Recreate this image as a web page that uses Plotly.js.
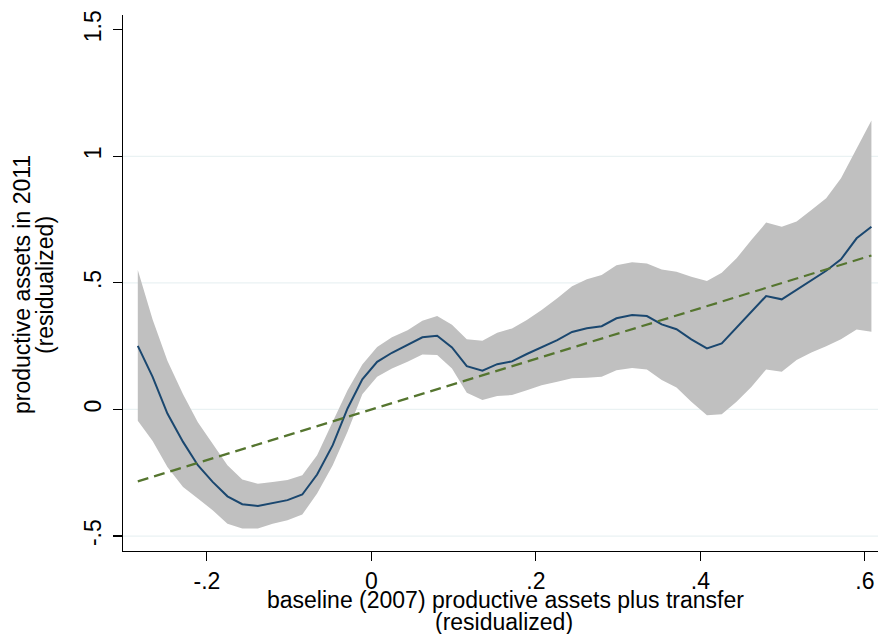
<!DOCTYPE html>
<html>
<head>
<meta charset="utf-8">
<script src="https://cdn.plot.ly/plotly-3.0.1.min.js"></script>
<style>html,body{margin:0;padding:0;background:#fff;}#chart{width:879px;height:634px;}</style>
</head>
<body>
<div id="chart"></div>
<script>
// Evaluation grid (baseline productive assets plus transfer, residualized)
const xGrid = [-0.284,-0.266,-0.248,-0.229,-0.211,-0.193,-0.175,-0.157,-0.138,-0.120,
  -0.102,-0.084,-0.066,-0.047,-0.029,-0.011,0.007,0.025,0.044,0.062,
  0.080,0.098,0.116,0.135,0.153,0.171,0.189,0.207,0.226,0.244,
  0.262,0.280,0.298,0.317,0.335,0.353,0.371,0.389,0.408,0.426,
  0.444,0.462,0.480,0.499,0.517,0.535,0.553,0.571,0.590,0.608];
// Local polynomial fit
const fitY = [0.251,0.129,-0.016,-0.128,-0.220,-0.286,-0.343,-0.374,-0.381,-0.369,
  -0.358,-0.336,-0.257,-0.141,0.004,0.119,0.188,0.224,0.254,0.285,
  0.291,0.245,0.171,0.153,0.179,0.190,0.219,0.247,0.274,0.306,
  0.321,0.329,0.360,0.373,0.369,0.336,0.317,0.277,0.241,0.261,
  0.323,0.389,0.448,0.435,0.472,0.511,0.548,0.593,0.676,0.722];
// 95% CI upper bound
const ciUpper = [0.551,0.355,0.192,0.060,-0.050,-0.134,-0.220,-0.277,-0.293,-0.286,
  -0.279,-0.260,-0.181,-0.049,0.076,0.178,0.247,0.285,0.313,0.350,
  0.369,0.335,0.277,0.271,0.303,0.320,0.353,0.393,0.439,0.487,
  0.514,0.531,0.570,0.581,0.577,0.553,0.544,0.524,0.507,0.540,
  0.597,0.669,0.738,0.722,0.742,0.788,0.834,0.913,1.028,1.141];
// 95% CI lower bound
const ciLower = [-0.045,-0.125,-0.227,-0.306,-0.352,-0.398,-0.451,-0.470,-0.470,-0.451,
  -0.438,-0.415,-0.332,-0.220,-0.088,0.060,0.129,0.162,0.188,0.217,
  0.215,0.162,0.066,0.037,0.053,0.057,0.076,0.096,0.109,0.123,
  0.125,0.129,0.155,0.164,0.158,0.116,0.087,0.030,-0.023,-0.019,
  0.030,0.089,0.158,0.149,0.195,0.225,0.250,0.277,0.316,0.307];
// 45-degree reference line end points
const refX = [-0.284, 0.608];
const refY = [-0.284, 0.608];
// Axis ticks
const xTickVals = [-0.2, 0, 0.2, 0.4, 0.6];
const xTickText = ['-.2', '0', '.2', '.4', '.6'];
const yTickVals = [-0.5, 0, 0.5, 1, 1.5];
const yTickText = ['-.5', '0', '.5', '1', '1.5'];
const yGridVals = [-0.5, 0, 0.5, 1];
// Axis titles (two lines each)
const xTitleLines = ['baseline (2007) productive assets plus transfer', '(residualized)'];
const yTitleLines = ['productive assets in 2011', '(residualized)'];

const FONT = 'Liberation Sans, Arial, sans-serif';
const TSIZE = 23;

const traces = [
  {x: xGrid, y: ciLower, type: 'scatter', mode: 'lines', line: {width: 0, color: '#c0c0c0'}, hoverinfo: 'skip', showlegend: false},
  {x: xGrid, y: ciUpper, type: 'scatter', mode: 'lines', fill: 'tonexty', fillcolor: '#c0c0c0', line: {width: 0, color: '#c0c0c0'}, hoverinfo: 'skip', showlegend: false},
  {x: xGrid, y: fitY, type: 'scatter', mode: 'lines', line: {color: '#1a476f', width: 2}, showlegend: false},
  {x: refX, y: refY, type: 'scatter', mode: 'lines', line: {color: '#55752f', width: 2.2, dash: '11px,6px'}, showlegend: false}
];

const shapes = yGridVals.map(v => ({
  type: 'line', xref: 'paper', x0: 0, x1: 1, yref: 'y', y0: v, y1: v,
  line: {color: '#eaf2f3', width: 1.2}, layer: 'below'
}));

const annotations = [
  {text: xTitleLines[0], xref: 'paper', yref: 'paper', x: 0.5, y: 0, xanchor: 'center', yanchor: 'middle', xshift: 5, yshift: -49, showarrow: false, font: {family: FONT, size: TSIZE, color: '#000'}},
  {text: xTitleLines[1], xref: 'paper', yref: 'paper', x: 0.5, y: 0, xanchor: 'center', yanchor: 'middle', xshift: 3, yshift: -71, showarrow: false, font: {family: FONT, size: TSIZE, color: '#000'}},
  {text: yTitleLines[0], xref: 'paper', yref: 'paper', x: 0, y: 0.5, xanchor: 'center', yanchor: 'middle', xshift: -101, yshift: -2, textangle: -90, showarrow: false, font: {family: FONT, size: TSIZE, color: '#000'}},
  {text: yTitleLines[1], xref: 'paper', yref: 'paper', x: 0, y: 0.5, xanchor: 'center', yanchor: 'middle', xshift: -78, yshift: -2, textangle: -90, showarrow: false, font: {family: FONT, size: TSIZE, color: '#000'}}
];

const layout = {
  width: 879, height: 634,
  margin: {l: 123, r: 1, t: 15, b: 83},
  paper_bgcolor: '#ffffff', plot_bgcolor: '#ffffff',
  showlegend: false,
  font: {family: FONT, color: '#000000', size: TSIZE},
  shapes: shapes,
  annotations: annotations,
  xaxis: {
    range: [-0.302, 0.616], tickvals: xTickVals, ticktext: xTickText,
    ticks: 'outside', ticklen: 9, tickwidth: 1.2, tickcolor: '#000',
    showline: true, linecolor: '#000', linewidth: 1.2,
    showgrid: false, zeroline: false, automargin: false,
    tickfont: {family: FONT, size: TSIZE, color: '#000'}
  },
  yaxis: {
    range: [-0.559, 1.558], tickvals: yTickVals, ticktext: yTickText,
    ticks: 'outside', ticklen: 9, tickwidth: 1.2, tickcolor: '#000', tickangle: -90,
    ticklabelstandoff: 3,
    showline: true, linecolor: '#000', linewidth: 1.2,
    showgrid: false, zeroline: false, automargin: false,
    tickfont: {family: FONT, size: TSIZE, color: '#000'}
  }
};

Plotly.newPlot('chart', traces, layout, {displayModeBar: false, staticPlot: true});
</script>
</body>
</html>
